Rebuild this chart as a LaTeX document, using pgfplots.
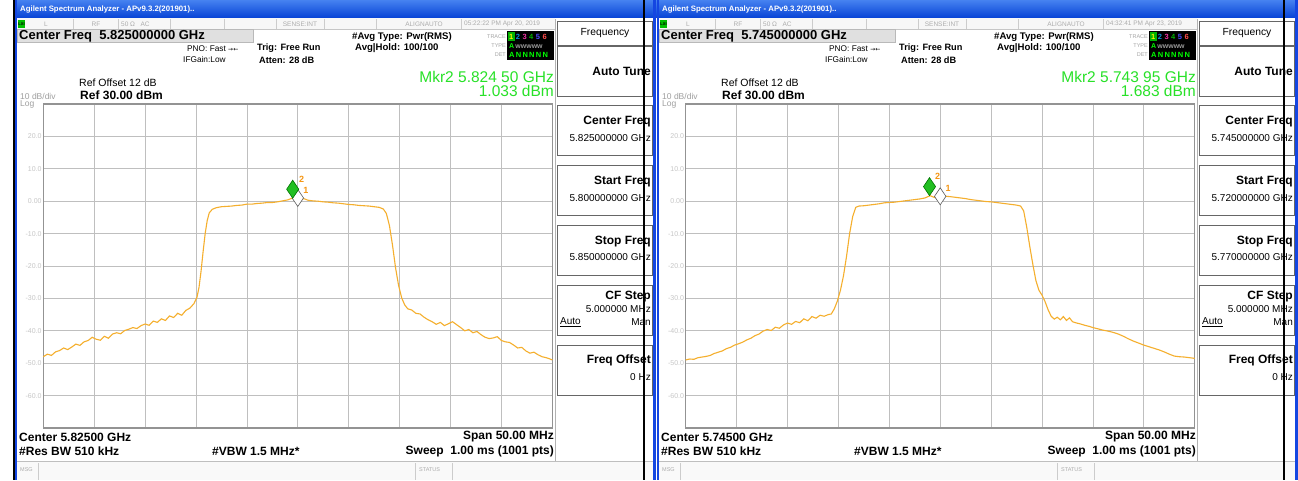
\documentclass[border=0pt]{standalone}
\usepackage{pgfplots}
\pgfplotsset{compat=1.18}
\usepackage{fontspec}
\setmainfont{Liberation Sans}
\newfontfamily\symf{DejaVu Sans}
\newcommand{\fs}[1]{\fontsize{#1}{#1}\selectfont}
\definecolor{trc}{RGB}{245,175,45}
\definecolor{mkg}{RGB}{40,225,40}
\definecolor{tb1}{RGB}{70,130,240}
\definecolor{tb2}{RGB}{10,70,215}
\definecolor{fb}{RGB}{20,70,225}
\definecolor{mko}{RGB}{245,150,20}

\pgfplotsset{scr/.style={scale only axis, width=509pt, height=324pt, anchor=north west,
  xmin=0,xmax=50,ymin=-70,ymax=30,
  xtick={0,5,...,50}, ytick={-70,-60,...,30},
  xticklabels={}, yticklabels={{},{-60.0},{-50.0},{-40.0},{-30.0},{-20.0},{-10.0},{0.00},{10.0},{20.0},{}},
  grid=major, major grid style={draw=gray!50, line width=0.8pt},
  axis line style={draw=gray!85, line width=1.3pt},
  major tick length=0pt,
  yticklabel style={font=\fs{7}, text=gray!45, inner sep=1.5pt},
  axis background/.style={fill=white}, clip=false}}

% #1 dx, #2 timestamp, #3 center freq, #4 mkr freq, #5 mkr value, #6 start, #7 stop, #8 center short
\newcommand{\screen}[8]{%
\begin{scope}[xshift=#1pt]
  \fill[white] (14,0) rectangle (657,480);
  \shade[top color=tb1,bottom color=tb2] (14,0) rectangle (657,17);
  \node[anchor=west,text=white,font=\fs{7.8}\bfseries,inner sep=0] at (20,9) {Agilent Spectrum Analyzer - APv9.3.2(201901)..};
  \fill[fb] (14.5,0) rectangle (17,480);
  \fill[fb] (653,0) rectangle (657,480);
  % status row
  \fill[gray!6] (17,18) rectangle (555,29);
  \draw[gray!45] (17,29) -- (555,29);
  \foreach \sx in {73,118,170,224,276,324,376,461} {\draw[gray!40] (\sx,19) -- (\sx,29);}
  \fill[green!75!black] (18,20) rectangle (25,28);
  \node[font=\fs{4}\bfseries,text=black,inner sep=0] at (21.5,24) {LXI};
  \begin{scope}[every node/.style={font=\fs{6.5},text=gray!65,inner sep=0}]
    \node at (46,24) {L};
    \node at (96,24) {RF};
    \node[anchor=west] at (121,24) {50 Ω\ \ \ AC};
    \node at (300,24) {SENSE:INT};
    \node at (424,24) {ALIGNAUTO};
    \node[anchor=west] at (464,24) {#2};
  \end{scope}
  % center freq box
  \draw[fill=gray!24, draw=gray!55] (17,29.5) rectangle (253,42);
  \node[anchor=west,font=\fs{13}\bfseries,inner sep=0] at (19,36) {Center Freq\ \ #3};
  \node[anchor=west,font=\fs{8.3},inner sep=0] at (187,49) {PNO: Fast {\symf\fs{6}→←}};
  \node[anchor=west,font=\fs{8.3},inner sep=0] at (183,60) {IFGain:Low};
  \node[anchor=west,font=\fs{9.2}\bfseries,inner sep=0] at (257,48) {Trig: Free Run};
  \node[anchor=west,font=\fs{9.2}\bfseries,inner sep=0] at (259,60) {Atten: 28 dB};
  \node[anchor=west,font=\fs{9.6}\bfseries,inner sep=0] at (352,37) {\#Avg Type: Pwr(RMS)};
  \node[anchor=west,font=\fs{9.6}\bfseries,inner sep=0] at (355,48) {Avg|Hold: 100/100};
  % trace box
  \node[anchor=east,font=\fs{5.5},text=gray!70,inner sep=0] at (506,37) {TRACE};
  \node[anchor=east,font=\fs{5.5},text=gray!70,inner sep=0] at (506,46) {TYPE};
  \node[anchor=east,font=\fs{5.5},text=gray!70,inner sep=0] at (506,55) {DET};
  \fill[black] (507,31) rectangle (554,60);
  \fill[green!70!black] (508,32) rectangle (515,41);
  \node[anchor=west,font=\fs{7.5}\bfseries,inner sep=0] at (509,37) {{\color{yellow}1}\,\,{\color{cyan!80!blue}2}\,\,{\color{magenta!80}3}\,\,{\color{green!70!black}4}\,\,{\color{blue!70}5}\,\,{\color{red!70}6}};
  \node[anchor=west,font=\fs{7}\bfseries,inner sep=0] at (509,46) {{\color{green}A}\,{\color{gray!80}wwwww}};
  \node[anchor=west,font=\fs{7.5}\bfseries,inner sep=0] at (509,55) {\color{green}A\,N\,N\,N\,N\,N};
  % marker readout
  \node[anchor=east,font=\fs{15.5},text=mkg,inner sep=0] at (554,77) {Mkr2 #4};
  \node[anchor=east,font=\fs{15.5},text=mkg,inner sep=0] at (554,91) {#5};
  \node[anchor=west,font=\fs{10.5},inner sep=0] at (79,83) {Ref Offset 12 dB};
  \node[anchor=west,font=\fs{12}\bfseries,inner sep=0] at (80,95) {Ref 30.00 dBm};
  \node[anchor=west,font=\fs{8.5},text=gray!75,inner sep=0] at (20,96) {10 dB/div};
  \node[anchor=west,font=\fs{8.5},text=gray!75,inner sep=0] at (20,104) {Log};
  % softkeys
  \draw[gray!60, line width=1pt] (555.5,19) -- (555.5,461);
  \draw[gray!80!black] (557,21.5) rectangle (652,45);
  \node[font=\fs{10.3},inner sep=0] at (605,33) {Frequency};
  \foreach \t in {46,105,165,225,285,345} {\draw[gray!80!black, line width=0.9pt] (557,\t) rectangle (652,\t+50);}
  \node[anchor=east,font=\fs{12}\bfseries,inner sep=0] at (651,71) {Auto Tune};
  \node[anchor=east,font=\fs{12}\bfseries,inner sep=0] at (651,122) {Center Freq};
  \node[anchor=east,font=\fs{10},inner sep=0] at (651,138) {#3};
  \node[anchor=east,font=\fs{12}\bfseries,inner sep=0] at (651,182) {Start Freq};
  \node[anchor=east,font=\fs{10},inner sep=0] at (651,198) {#6};
  \node[anchor=east,font=\fs{12}\bfseries,inner sep=0] at (651,242) {Stop Freq};
  \node[anchor=east,font=\fs{10},inner sep=0] at (651,257) {#7};
  \node[anchor=east,font=\fs{12}\bfseries,inner sep=0] at (651,297) {CF Step};
  \node[anchor=east,font=\fs{10},inner sep=0] at (651,309) {5.000000 MHz};
  \node[anchor=west,font=\fs{10},inner sep=0] at (560,322) {\underline{Auto}};
  \node[anchor=east,font=\fs{10},inner sep=0] at (651,322) {Man};
  \node[anchor=east,font=\fs{12}\bfseries,inner sep=0] at (651,360) {Freq Offset};
  \node[anchor=east,font=\fs{10},inner sep=0] at (651,377) {0 Hz};
  % bottom
  \node[anchor=west,font=\fs{12}\bfseries,inner sep=0] at (19,437) {Center #8};
  \node[anchor=west,font=\fs{12}\bfseries,inner sep=0] at (19,451) {\#Res BW 510 kHz};
  \node[anchor=west,font=\fs{12}\bfseries,inner sep=0] at (212,451) {\#VBW 1.5 MHz*};
  \node[anchor=east,font=\fs{12}\bfseries,inner sep=0] at (554,437) {Span 50.00 MHz};
  \node[anchor=east,font=\fs{12}\bfseries,inner sep=0] at (554,451) {Sweep\ \ 1.00 ms (1001 pts)};
  \draw[gray!50] (17,461.5) -- (653,461.5);
  \fill[gray!5] (17,462) rectangle (653,480);
  \draw[gray!40] (38,463) -- (38,480);
  \draw[gray!40] (415,463) -- (415,480);
  \draw[gray!40] (452,463) -- (452,480);
  \node[anchor=west,font=\fs{5.5},text=gray!65,inner sep=0] at (20,470) {MSG};
  \node[anchor=west,font=\fs{5.5},text=gray!65,inner sep=0] at (419,470) {STATUS};
\end{scope}}

\begin{document}
\begin{tikzpicture}[x=1pt,y=-1pt]
\useasboundingbox (0,0) rectangle (1298,480);
\fill[white] (0,0) rectangle (1298,480);
\screen{0}{05:22:22 PM Apr 20, 2019}{5.825000000 GHz}{5.824 50 GHz}{1.033 dBm}{5.800000000 GHz}{5.850000000 GHz}{5.82500 GHz}
\screen{642}{04:32:41 PM Apr 23, 2019}{5.745000000 GHz}{5.743 95 GHz}{1.683 dBm}{5.720000000 GHz}{5.770000000 GHz}{5.74500 GHz}

\begin{axis}[scr, at={(43.3pt,-104pt)}]
\addplot[trc, line width=1.1pt] coordinates {
(0,-48.0)(0.4,-47.2)(0.8,-47.6)(1.2,-46.5)(1.6,-46.1)(2.0,-45.3)(2.4,-45.8)(2.8,-45.0)(3.2,-44.1)(3.6,-44.5)
(4.0,-43.4)(4.4,-43.0)(4.8,-42.0)(5.2,-42.6)(5.6,-42.9)(6.0,-41.7)(6.4,-42.3)(6.8,-41.0)(7.2,-40.6)(7.6,-40.9)
(8.0,-39.9)(8.4,-39.5)(8.8,-39.0)(9.2,-39.3)(9.6,-38.4)(10.0,-37.9)(10.4,-38.3)(10.8,-37.0)(11.2,-37.4)(11.6,-36.3)
(12.0,-36.8)(12.4,-35.4)(12.8,-35.9)(13.2,-34.6)(13.6,-35.2)(14.0,-33.7)(14.4,-33.0)(14.8,-31.6)(15.1,-29.6)(15.3,-26.5)
(15.5,-21.5)(15.7,-15.5)(15.9,-10.0)(16.1,-6.0)(16.3,-3.6)(16.6,-2.5)(17.0,-2.0)(17.5,-1.7)(18.0,-1.6)(18.5,-1.5)
(19.0,-1.3)(19.5,-1.2)(20.0,-0.9)(20.5,-0.9)(21.0,-0.7)(21.5,-0.6)(22.0,-0.4)(22.5,-0.4)(23.0,-0.2)(23.5,0.1)
(24.0,0.4)(24.5,1.0)(24.8,0.4)(25.0,-0.3)(25.3,0.5)(25.6,0.8)(26.0,0.3)(26.5,0.1)(27.0,0.0)(27.5,-0.2)
(28.0,-0.3)(28.5,-0.5)(29.0,-0.6)(29.5,-0.8)(30.0,-1.0)(30.5,-1.1)(31.0,-1.3)(31.5,-1.4)(32.0,-1.5)(32.5,-1.7)
(33.0,-1.9)(33.4,-2.4)(33.7,-3.8)(34.0,-7.5)(34.3,-13.5)(34.6,-20.5)(34.9,-26.0)(35.2,-29.8)(35.5,-32.0)(35.8,-33.2)
(36.2,-33.6)(36.6,-34.6)(37.0,-34.8)(37.4,-35.8)(37.8,-36.6)(38.2,-37.2)(38.6,-38.0)(39.0,-37.4)(39.4,-38.4)(39.8,-37.8)
(40.2,-37.2)(40.6,-38.1)(41.0,-39.0)(41.4,-40.0)(41.8,-39.6)(42.2,-40.6)(42.6,-40.2)(43.0,-41.2)(43.4,-42.0)(43.8,-42.4)
(44.2,-42.2)(44.6,-41.8)(45.0,-43.0)(45.4,-43.4)(45.8,-43.6)(46.2,-44.4)(46.6,-45.3)(47.0,-45.1)(47.4,-46.2)(47.8,-46.9)
(48.2,-46.6)(48.6,-47.4)(49.0,-48.0)(49.4,-48.3)(49.7,-48.6)(50.0,-49.0)};
\addplot[only marks, mark=diamond*, mark size=8.5pt, mark options={xscale=0.9, fill=white, draw=gray!70!black, line width=0.6pt},
  nodes near coords={1}, every node near coord/.append style={font=\fs{9}\bfseries, text=mko, anchor=center, xshift=8pt, yshift=8pt}]
  coordinates {(25,1.0)};
\addplot[only marks, mark=diamond*, mark size=9pt, mark options={xscale=0.9, fill=mkg!85!black, draw=green!45!black, line width=0.6pt},
  nodes near coords={2}, every node near coord/.append style={font=\fs{9}\bfseries, text=mko, anchor=center, xshift=9pt, yshift=10pt}]
  coordinates {(24.5,3.7)};
\end{axis}

\begin{axis}[scr, at={(685.7pt,-104pt)}]
\addplot[trc, line width=1.1pt] coordinates {
(0,-49.0)(0.4,-48.7)(0.8,-48.8)(1.2,-48.3)(1.6,-48.1)(2.0,-47.9)(2.4,-47.6)(2.8,-47.0)(3.2,-46.6)(3.6,-46.2)
(4.0,-45.5)(4.4,-45.1)(4.8,-44.4)(5.2,-44.0)(5.6,-43.5)(6.0,-42.8)(6.4,-42.3)(6.8,-41.5)(7.2,-41.0)(7.6,-40.1)
(8.0,-39.6)(8.4,-39.9)(8.8,-38.9)(9.2,-39.2)(9.6,-38.2)(10.0,-37.6)(10.4,-38.0)(10.8,-37.1)(11.2,-37.5)(11.6,-36.3)
(12.0,-36.9)(12.4,-35.6)(12.8,-36.1)(13.2,-35.2)(13.6,-35.5)(14.0,-35.0)(14.3,-34.8)(14.6,-33.2)(14.9,-30.8)(15.2,-27.5)
(15.5,-23.0)(15.8,-17.0)(16.1,-10.0)(16.4,-4.8)(16.7,-1.9)(17.0,-1.5)(17.5,-1.4)(18.0,-1.2)(18.5,-1.0)(19.0,-0.8)
(19.5,-0.5)(20.0,-0.4)(20.5,-0.3)(21.0,-0.1)(21.5,0.1)(22.0,0.3)(22.5,0.5)(23.0,0.7)(23.5,1.0)(24.0,1.7)
(24.4,1.2)(24.8,0.9)(25.2,1.9)(25.6,1.5)(26.0,1.4)(26.5,1.2)(27.0,1.0)(27.5,0.8)(28.0,0.5)(28.5,0.3)
(29.0,0.1)(29.5,-0.1)(30.0,-0.2)(30.5,-0.4)(31.0,-0.6)(31.5,-0.8)(32.0,-1.0)(32.5,-1.2)(32.9,-1.5)(33.2,-3.0)
(33.5,-8.0)(33.8,-14.0)(34.1,-19.5)(34.4,-24.5)(34.7,-27.5)(35.0,-29.0)(35.3,-31.0)(35.6,-33.5)(35.9,-35.5)(36.2,-36.4)
(36.5,-35.8)(36.8,-36.6)(37.1,-35.6)(37.4,-36.8)(37.7,-36.0)(38.0,-37.2)(38.4,-37.6)(38.8,-37.9)(39.2,-38.3)(39.6,-38.6)
(40.0,-39.0)(40.5,-39.4)(41.0,-39.8)(41.5,-40.1)(42.0,-40.5)(42.5,-41.0)(43.0,-41.7)(43.5,-42.5)(44.0,-43.2)(44.5,-43.8)
(45.0,-44.4)(45.5,-44.9)(46.0,-45.4)(46.5,-45.9)(47.0,-46.5)(47.5,-47.2)(48.0,-47.8)(48.5,-48.0)(49.0,-48.1)(49.5,-48.3)
(50.0,-48.5)};
\addplot[only marks, mark=diamond*, mark size=8.5pt, mark options={xscale=0.9, fill=white, draw=gray!70!black, line width=0.6pt},
  nodes near coords={1}, every node near coord/.append style={font=\fs{9}\bfseries, text=mko, anchor=center, xshift=8pt, yshift=8pt}]
  coordinates {(25,1.5)};
\addplot[only marks, mark=diamond*, mark size=9pt, mark options={xscale=0.9, fill=mkg!85!black, draw=green!45!black, line width=0.6pt},
  nodes near coords={2}, every node near coord/.append style={font=\fs{9}\bfseries, text=mko, anchor=center, xshift=8pt, yshift=10pt}]
  coordinates {(23.95,4.5)};
\end{axis}

\fill[black] (13,0) rectangle (15,480);
\fill[black] (642.5,0) rectangle (644.5,480);
\fill[black] (1282.5,0) rectangle (1284.5,480);
\end{tikzpicture}
\end{document}
